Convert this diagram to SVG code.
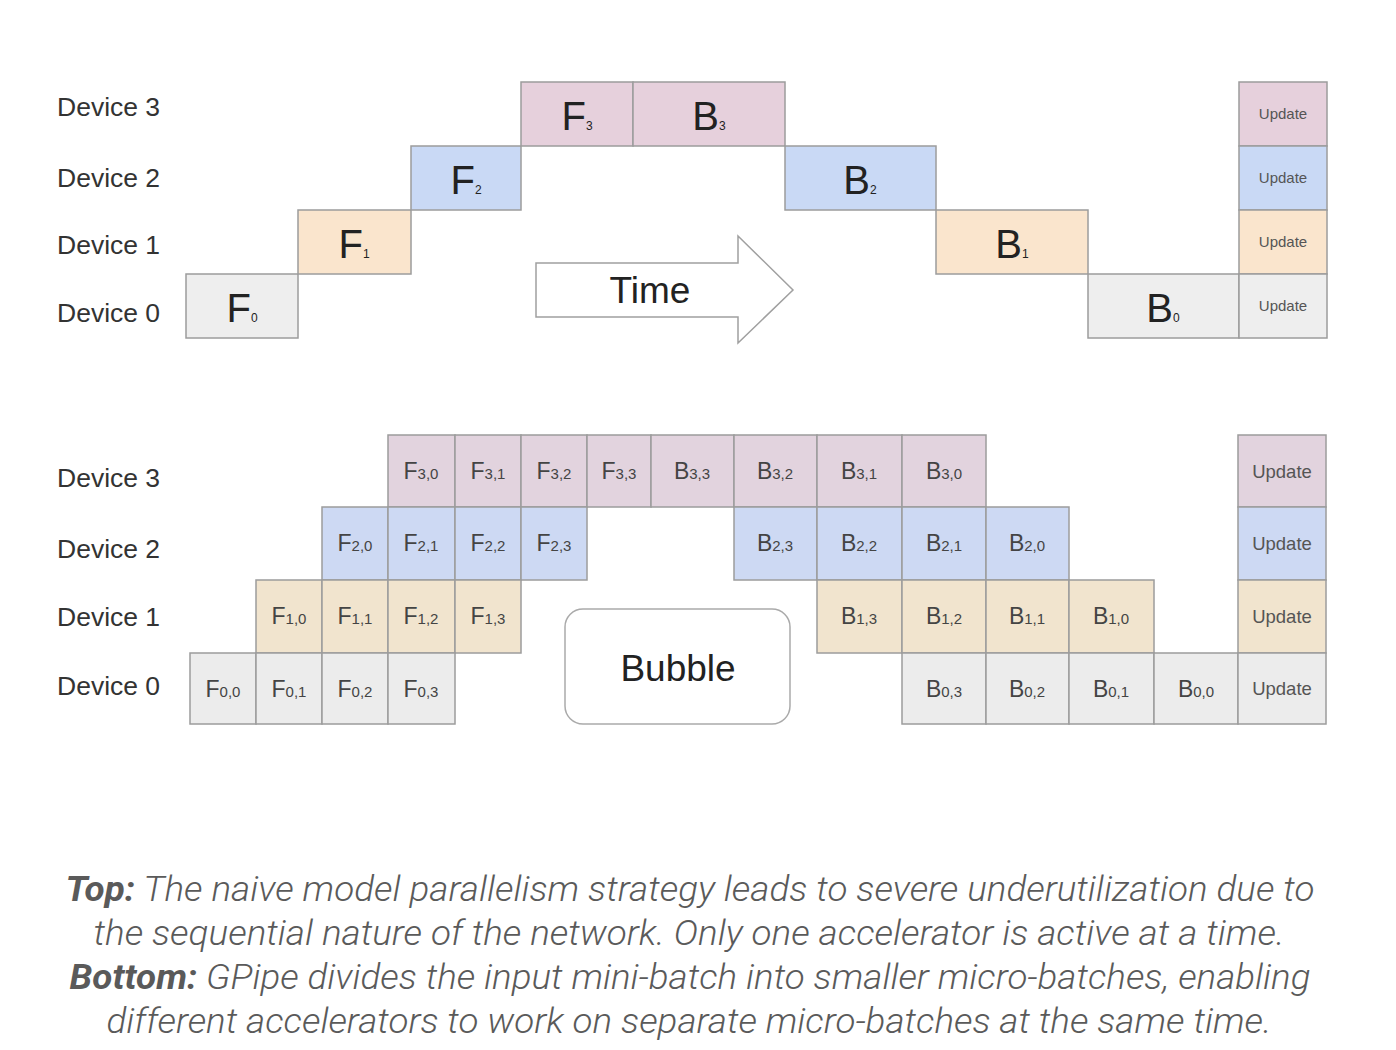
<svg xmlns="http://www.w3.org/2000/svg" width="1396" height="1050" viewBox="0 0 1396 1050">
<style>
.c{stroke:#9c9c9c;stroke-width:1.5}
.p{fill:#e6d0dc}.b{fill:#c9d9f5}.o{fill:#fae5cd}.g{fill:#eeeeee}
.p2{fill:#e2d3de}.b2{fill:#cdd9f3}.o2{fill:#f1e4ce}.g2{fill:#ececec}
.dev{font-family:"Liberation Sans",Arial,sans-serif;font-size:26.5px;fill:#333}
.big{font-family:"Liberation Sans",Arial,sans-serif;font-size:40px;fill:#222;text-anchor:middle}
.big tspan{font-size:12px}
.sm{font-family:"Liberation Sans",Arial,sans-serif;font-size:23px;fill:#444;text-anchor:middle}
.sm tspan{font-size:15px}
.up1{font-family:"Liberation Sans",Arial,sans-serif;font-size:15px;fill:#555;text-anchor:middle}
.up2{font-family:"Liberation Sans",Arial,sans-serif;font-size:18.5px;fill:#555;text-anchor:middle}
.lbl{font-family:"Liberation Sans",Arial,sans-serif;font-size:37px;fill:#222;text-anchor:middle}
.cap{font-family:Roboto,"Liberation Sans",sans-serif;font-style:italic;font-weight:300;font-size:35px;fill:#5a5a5a;text-anchor:middle}
.cap .bo{font-weight:bold}
</style>
<rect width="1396" height="1050" fill="#fff"/>

<g id="top-labels">
<text class="dev" x="57" y="116">Device 3</text>
<text class="dev" x="57" y="187">Device 2</text>
<text class="dev" x="57" y="254">Device 1</text>
<text class="dev" x="57" y="322">Device 0</text>
</g>

<g id="top-F0"><rect class="c g" x="186" y="274" width="112" height="64"/><text class="big" x="242" y="322">F<tspan>0</tspan></text></g>
<g id="top-F1"><rect class="c o" x="298" y="210" width="113" height="64"/><text class="big" x="354" y="258">F<tspan>1</tspan></text></g>
<g id="top-F2"><rect class="c b" x="411" y="146" width="110" height="64"/><text class="big" x="466" y="194">F<tspan>2</tspan></text></g>
<g id="top-F3"><rect class="c p" x="521" y="82" width="112" height="64"/><text class="big" x="577" y="130">F<tspan>3</tspan></text></g>
<g id="top-B3"><rect class="c p" x="633" y="82" width="152" height="64"/><text class="big" x="709" y="130">B<tspan>3</tspan></text></g>
<g id="top-B2"><rect class="c b" x="785" y="146" width="151" height="64"/><text class="big" x="860" y="194">B<tspan>2</tspan></text></g>
<g id="top-B1"><rect class="c o" x="936" y="210" width="152" height="64"/><text class="big" x="1012" y="258">B<tspan>1</tspan></text></g>
<g id="top-B0"><rect class="c g" x="1088" y="274" width="151" height="64"/><text class="big" x="1163" y="322">B<tspan>0</tspan></text></g>
<g id="top-U3"><rect class="c p" x="1239" y="82" width="88" height="64"/><text class="up1" x="1283" y="119">Update</text></g>
<g id="top-U2"><rect class="c b" x="1239" y="146" width="88" height="64"/><text class="up1" x="1283" y="183">Update</text></g>
<g id="top-U1"><rect class="c o" x="1239" y="210" width="88" height="64"/><text class="up1" x="1283" y="247">Update</text></g>
<g id="top-U0"><rect class="c g" x="1239" y="274" width="88" height="64"/><text class="up1" x="1283" y="311">Update</text></g>

<g id="time-arrow">
<polygon points="536,263 738,263 738,236 793,290 738,343 738,317 536,317" fill="#fff" stroke="#a0a0a0" stroke-width="1.5"/>
<text class="lbl" x="650" y="303">Time</text>
</g>

<g id="bottom-labels">
<text class="dev" x="57" y="487">Device 3</text>
<text class="dev" x="57" y="558">Device 2</text>
<text class="dev" x="57" y="626">Device 1</text>
<text class="dev" x="57" y="695">Device 0</text>
</g>

<!-- Device 3 row -->
<g id="F30"><rect class="c p2" x="388" y="435" width="67" height="72"/><text class="sm" x="421" y="479">F<tspan>3,0</tspan></text></g>
<g id="F31"><rect class="c p2" x="455" y="435" width="66" height="72"/><text class="sm" x="488" y="479">F<tspan>3,1</tspan></text></g>
<g id="F32"><rect class="c p2" x="521" y="435" width="66" height="72"/><text class="sm" x="554" y="479">F<tspan>3,2</tspan></text></g>
<g id="F33"><rect class="c p2" x="587" y="435" width="64" height="72"/><text class="sm" x="619" y="479">F<tspan>3,3</tspan></text></g>
<g id="B33"><rect class="c p2" x="651" y="435" width="83" height="72"/><text class="sm" x="692" y="479">B<tspan>3,3</tspan></text></g>
<g id="B32"><rect class="c p2" x="734" y="435" width="83" height="72"/><text class="sm" x="775" y="479">B<tspan>3,2</tspan></text></g>
<g id="B31"><rect class="c p2" x="817" y="435" width="85" height="72"/><text class="sm" x="859" y="479">B<tspan>3,1</tspan></text></g>
<g id="B30"><rect class="c p2" x="902" y="435" width="84" height="72"/><text class="sm" x="944" y="479">B<tspan>3,0</tspan></text></g>
<g id="U3"><rect class="c p2" x="1238" y="435" width="88" height="72"/><text class="up2" x="1282" y="478">Update</text></g>

<!-- Device 2 row -->
<g id="F20"><rect class="c b2" x="322" y="507" width="66" height="73"/><text class="sm" x="355" y="551">F<tspan>2,0</tspan></text></g>
<g id="F21"><rect class="c b2" x="388" y="507" width="67" height="73"/><text class="sm" x="421" y="551">F<tspan>2,1</tspan></text></g>
<g id="F22"><rect class="c b2" x="455" y="507" width="66" height="73"/><text class="sm" x="488" y="551">F<tspan>2,2</tspan></text></g>
<g id="F23"><rect class="c b2" x="521" y="507" width="66" height="73"/><text class="sm" x="554" y="551">F<tspan>2,3</tspan></text></g>
<g id="B23"><rect class="c b2" x="734" y="507" width="83" height="73"/><text class="sm" x="775" y="551">B<tspan>2,3</tspan></text></g>
<g id="B22"><rect class="c b2" x="817" y="507" width="85" height="73"/><text class="sm" x="859" y="551">B<tspan>2,2</tspan></text></g>
<g id="B21"><rect class="c b2" x="902" y="507" width="84" height="73"/><text class="sm" x="944" y="551">B<tspan>2,1</tspan></text></g>
<g id="B20"><rect class="c b2" x="986" y="507" width="83" height="73"/><text class="sm" x="1027" y="551">B<tspan>2,0</tspan></text></g>
<g id="U2"><rect class="c b2" x="1238" y="507" width="88" height="73"/><text class="up2" x="1282" y="550">Update</text></g>

<!-- Device 1 row -->
<g id="F10"><rect class="c o2" x="256" y="580" width="66" height="73"/><text class="sm" x="289" y="624">F<tspan>1,0</tspan></text></g>
<g id="F11"><rect class="c o2" x="322" y="580" width="66" height="73"/><text class="sm" x="355" y="624">F<tspan>1,1</tspan></text></g>
<g id="F12"><rect class="c o2" x="388" y="580" width="67" height="73"/><text class="sm" x="421" y="624">F<tspan>1,2</tspan></text></g>
<g id="F13"><rect class="c o2" x="455" y="580" width="66" height="73"/><text class="sm" x="488" y="624">F<tspan>1,3</tspan></text></g>
<g id="B13"><rect class="c o2" x="817" y="580" width="85" height="73"/><text class="sm" x="859" y="624">B<tspan>1,3</tspan></text></g>
<g id="B12"><rect class="c o2" x="902" y="580" width="84" height="73"/><text class="sm" x="944" y="624">B<tspan>1,2</tspan></text></g>
<g id="B11"><rect class="c o2" x="986" y="580" width="83" height="73"/><text class="sm" x="1027" y="624">B<tspan>1,1</tspan></text></g>
<g id="B10"><rect class="c o2" x="1069" y="580" width="85" height="73"/><text class="sm" x="1111" y="624">B<tspan>1,0</tspan></text></g>
<g id="U1"><rect class="c o2" x="1238" y="580" width="88" height="73"/><text class="up2" x="1282" y="623">Update</text></g>

<!-- Device 0 row -->
<g id="F00"><rect class="c g2" x="190" y="653" width="66" height="71"/><text class="sm" x="223" y="697">F<tspan>0,0</tspan></text></g>
<g id="F01"><rect class="c g2" x="256" y="653" width="66" height="71"/><text class="sm" x="289" y="697">F<tspan>0,1</tspan></text></g>
<g id="F02"><rect class="c g2" x="322" y="653" width="66" height="71"/><text class="sm" x="355" y="697">F<tspan>0,2</tspan></text></g>
<g id="F03"><rect class="c g2" x="388" y="653" width="67" height="71"/><text class="sm" x="421" y="697">F<tspan>0,3</tspan></text></g>
<g id="B03"><rect class="c g2" x="902" y="653" width="84" height="71"/><text class="sm" x="944" y="697">B<tspan>0,3</tspan></text></g>
<g id="B02"><rect class="c g2" x="986" y="653" width="83" height="71"/><text class="sm" x="1027" y="697">B<tspan>0,2</tspan></text></g>
<g id="B01"><rect class="c g2" x="1069" y="653" width="85" height="71"/><text class="sm" x="1111" y="697">B<tspan>0,1</tspan></text></g>
<g id="B00"><rect class="c g2" x="1154" y="653" width="84" height="71"/><text class="sm" x="1196" y="697">B<tspan>0,0</tspan></text></g>
<g id="U0"><rect class="c g2" x="1238" y="653" width="88" height="71"/><text class="up2" x="1282" y="695">Update</text></g>

<g id="bubble">
<rect x="565" y="609" width="225" height="115" rx="18" fill="#fff" stroke="#aaaaaa" stroke-width="1.5"/>
<text class="lbl" x="678" y="681">Bubble</text>
</g>

<g id="caption">
<text class="cap" x="690" y="901" textLength="1249" lengthAdjust="spacingAndGlyphs"><tspan class="bo">Top:</tspan> The naive model parallelism strategy leads to severe underutilization due to</text>
<text class="cap" x="689" y="945" textLength="1191" lengthAdjust="spacingAndGlyphs">the sequential nature of the network. Only one accelerator is active at a time.</text>
<text class="cap" x="690" y="989" textLength="1241" lengthAdjust="spacingAndGlyphs"><tspan class="bo">Bottom:</tspan> GPipe divides the input mini-batch into smaller micro-batches, enabling</text>
<text class="cap" x="689" y="1033" textLength="1165" lengthAdjust="spacingAndGlyphs">different accelerators to work on separate micro-batches at the same time.</text>
</g>
</svg>
